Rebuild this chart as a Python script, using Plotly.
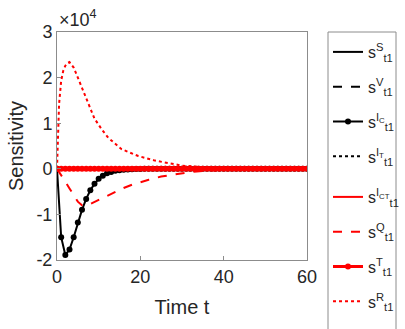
import plotly.graph_objects as go

# ---- data (values in units of 1e4) ----
t_full = list(range(0, 61))
t_line = [0, 60]
s_S = [0, 0]
s_V = [0, 0]
s_Ic = [0, -1.50, -1.89, -1.77, -1.50, -1.18, -0.90, -0.66, -0.47, -0.33, -0.22,
        -0.15, -0.10, -0.07, -0.045, -0.03, -0.02, -0.013, -0.008, -0.005, -0.003] + [0] * 40
s_IT = [0, 0]
s_ICT = [0, 0]
t_Q = [0, 1, 2, 3, 4, 5, 6, 7, 8, 10, 12, 14, 16, 18, 20, 22, 25, 28, 32, 36, 40, 50, 60]
s_Q = [0, -0.13, -0.28, -0.43, -0.58, -0.72, -0.80, -0.81, -0.77, -0.68, -0.59, -0.50,
       -0.42, -0.35, -0.29, -0.24, -0.17, -0.12, -0.07, -0.04, -0.02, 0, 0]
s_T = [0] * 61
t_R = [0, 0.5, 1, 1.5, 2, 2.5, 3, 4, 5, 6, 7.5, 9, 10.7, 12.3, 15.5, 19.5, 23.5, 27.5,
       30, 35, 40, 50, 60]
s_R = [0, 1.42, 1.93, 2.15, 2.26, 2.32, 2.34, 2.22, 2.0, 1.78, 1.42, 1.10, 0.87, 0.68,
       0.43, 0.28, 0.18, 0.11, 0.07, 0.035, 0.015, 0.003, 0]
scale = 1e4
y_ticks = [-2, -1, 0, 1, 2, 3]
x_ticks = [0, 20, 40, 60]
names = ["s<sup>S</sup><sub>t1</sub>", "s<sup>V</sup><sub>t1</sub>",
         "s<sup>I<sub>C</sub></sup><sub>t1</sub>", "s<sup>I<sub>T</sub></sup><sub>t1</sub>",
         "s<sup>I<sub>CT</sub></sup><sub>t1</sub>", "s<sup>Q</sup><sub>t1</sub>",
         "s<sup>T</sup><sub>t1</sub>", "s<sup>R</sup><sub>t1</sub>"]


def sc(v):
    return [a * scale for a in v]


# plot-area geometry (pixels)
L, R, T, B = 57, 98, 32, 69
W, H = 405, 329
ph = H - T - B
pw = W - L - R


def px_to_py(p):
    return 1 - (p - T) / ph


def px_to_px(p):
    return (p - L) / pw


fig = go.Figure()
series = [
    (t_line, s_S, "black", "solid", 2, None),
    (t_line, s_V, "black", "dash", 2, None),
    (t_full, s_Ic, "black", "solid", 2, 6),
    (t_line, s_IT, "black", "dot", 2, None),
    (t_line, s_ICT, "red", "solid", 2, None),
    (t_Q, s_Q, "red", "dash", 2, None),
    (t_full, s_T, "red", "solid", 3, 6),
    (t_R, s_R, "red", "dot", 2, None),
]
for i, (x, y, col, dash, w, msize) in enumerate(series):
    fig.add_trace(go.Scatter(
        x=x, y=sc(y), name=names[i], legendgroup=str(i),
        legend="legend" if i < 4 else "legend2",
        mode="lines+markers" if msize else "lines",
        line=dict(color=col, dash=dash, width=w),
        marker=dict(size=msize or 1, color=col),
    ))

axis_common = dict(showline=True, mirror=True, linecolor="#8c8c8c", linewidth=1,
                   ticks="inside", ticklen=4, tickcolor="#8c8c8c", showgrid=False,
                   zeroline=False, automargin=False,
                   tickfont=dict(size=18, color="#262626"))
leg_common = dict(xanchor="left", yanchor="top", borderwidth=0,
                  bgcolor="rgba(0,0,0,0)", font=dict(size=16, color="#262626"),
                  itemwidth=30, tracegroupgap=11)
fig.update_layout(
    width=W, height=H,
    margin=dict(l=L, r=R, t=T, b=B, autoexpand=False),
    paper_bgcolor="white", plot_bgcolor="white",
    font=dict(family="Liberation Sans, Arial", color="#262626"),
    xaxis=dict(range=[0, 60], tickvals=x_ticks, ticktext=[str(v) for v in x_ticks],
               title=dict(text="Time t", font=dict(size=20), standoff=14), **axis_common),
    yaxis=dict(range=[-2 * scale, 3 * scale], tickvals=sc(y_ticks),
               ticktext=[str(v) for v in y_ticks],
               title=dict(text="Sensitivity", font=dict(size=20), standoff=7), **axis_common),
    legend=dict(x=px_to_px(328), y=px_to_py(35), **leg_common),
    legend2=dict(x=px_to_px(328), y=px_to_py(38 + 4 * 35.5), **leg_common),
    showlegend=True,
)
# legend frame
fig.add_shape(type="rect", xref="paper", yref="paper",
              x0=px_to_px(328), x1=px_to_px(396), y0=px_to_py(345), y1=px_to_py(32),
              line=dict(color="#8c8c8c", width=1), fillcolor="white", layer="below")
fig.add_annotation(text="×10<sup>4</sup>", xref="paper", yref="paper", x=0.0, y=1.0,
                   xanchor="left", yanchor="bottom", showarrow=False,
                   font=dict(size=18, color="#262626"))
fig.write_html("out.html", config={"displayModeBar": False},
               post_script="document.body.style.margin='0';")
